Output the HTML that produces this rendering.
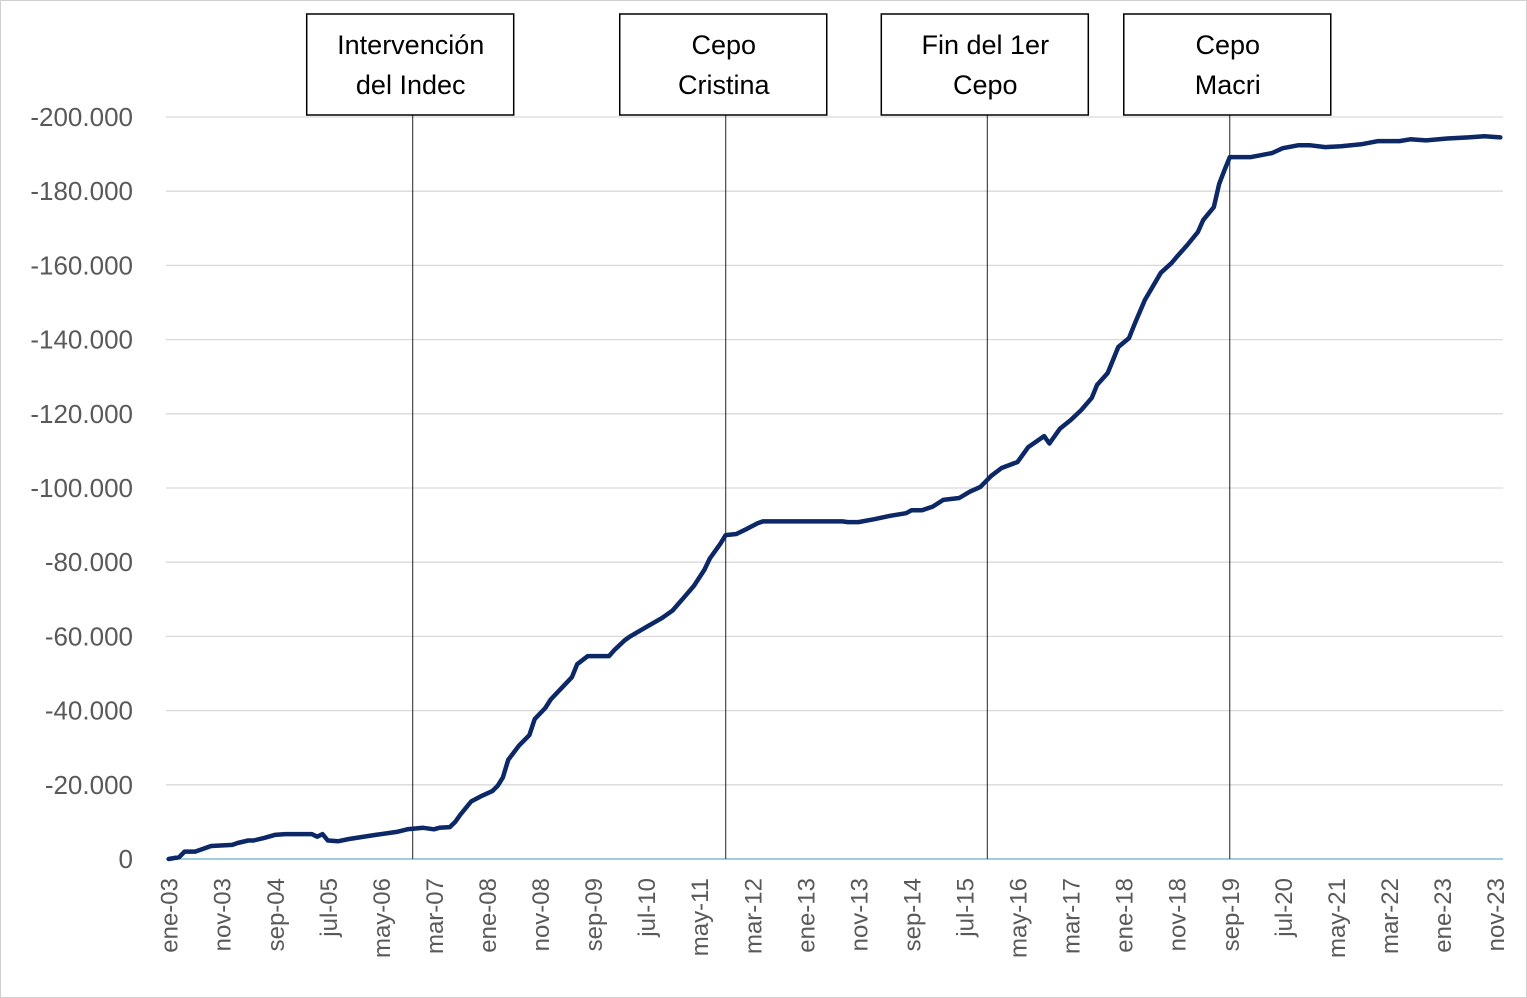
<!DOCTYPE html>
<html><head><meta charset="utf-8"><style>
body{margin:0;background:#fff}
#wrap{position:relative;width:1527px;height:998px;overflow:hidden}
svg text{font-family:"Liberation Sans",sans-serif}
</style></head><body>
<div id="wrap">
<svg id="chart" width="1527" height="998">
<rect x="0.5" y="0.5" width="1526" height="997" fill="#fff" stroke="#d0d0d0"/>
</svg>
</div>
<script>
const monthIdx=[0,2,3,5,7,8,12,13,15,16,18,20,22,27,28,29,30,32,34,39,43,45,48,50,51,53,54,55,57,59,61,62,63,64,66,68,69,71,72,74,76,77,79,83,84,86,87,90,93,95,97,99,101,102,104,105,107,109,111,112,127,128,130,133,136,139,140,142,144,146,149,151,153,155,157,160,162,165,166,168,170,172,174,175,177,179,181,182,184,187,189,190,192,194,195,197,198,199,200,204,208,210,213,215,218,221,225,228,232,234,237,241,245,248,251];
const values=[0,-0.5,-2,-2,-3,-3.5,-3.8,-4.3,-5,-5,-5.7,-6.5,-6.7,-6.7,-6,-6.7,-5,-4.8,-5.4,-6.5,-7.3,-8,-8.4,-8,-8.4,-8.6,-10,-12,-15.5,-17,-18.3,-19.7,-22,-26.7,-30.5,-33.4,-37.7,-40.7,-43,-46,-49,-52.5,-54.7,-54.7,-56.3,-59,-60,-62.5,-65,-67,-70.3,-73.6,-78,-81,-85,-87.3,-87.6,-89,-90.5,-91,-91,-90.8,-90.8,-91.6,-92.5,-93.2,-94,-94,-95,-96.8,-97.3,-99,-100.3,-103.2,-105.4,-107,-111,-114,-112,-116,-118.3,-121,-124.3,-127.8,-131,-138,-140.4,-144,-150.7,-158,-160.6,-162.3,-165.5,-169,-172.2,-175.7,-182,-185.7,-189.2,-189.2,-190.3,-191.6,-192.4,-192.4,-191.9,-192.1,-192.7,-193.5,-193.5,-194,-193.7,-194.2,-194.5,-194.8,-194.5];
const yTicks=[0,-20,-40,-60,-80,-100,-120,-140,-160,-180,-200];
const yTickLabels=["0","-20.000","-40.000","-60.000","-80.000","-100.000","-120.000","-140.000","-160.000","-180.000","-200.000"];
const monthNames=["ene","feb","mar","abr","may","jun","jul","ago","sep","oct","nov","dic"];
const startYear=2003, nMonths=252, labelEvery=10;
const events=["Intervención|del Indec","Cepo|Cristina","Fin del 1er|Cepo","Cepo|Macri"];
const eventMonths=[46,105,154.3,200];

const NS="http://www.w3.org/2000/svg";
const svg=document.getElementById('chart');
const X0=166,X1=1503,Y0=859,Y200=117;
const xS=m=>X0+(X1-X0)/nMonths*(m+0.5);
const yS=v=>Y0+(Y200-Y0)*(v/-200);
function mk(t,a,txt){const e=document.createElementNS(NS,t);for(const k in a)e.setAttribute(k,a[k]);if(txt!==undefined)e.textContent=txt;svg.appendChild(e);return e;}

yTicks.forEach((v,i)=>{
  if(v!==0){const g=mk('line',{x1:X0,x2:X1,y1:yS(v),y2:yS(v),stroke:'#d9d9d9','stroke-width':1.3});
  
  }
  const t=mk('text',{x:133,y:yS(v)+9,'text-anchor':'end','font-size':26,fill:'#595959'},yTickLabels[i]);
  
  
});
const ax=mk('line',{x1:X0,x2:X1,y1:Y0,y2:Y0,stroke:'#7fbfd6','stroke-width':1.5});



for(let m=0;m<nMonths;m+=labelEvery){
  const lbl=monthNames[m%12]+'-'+String((startYear+Math.floor(m/12))%100).padStart(2,'0');
  const x=xS(m)+9;
  const t=mk('text',{x:x,y:878,'text-anchor':'end','font-size':24,fill:'#595959',transform:`rotate(-90 ${x} 878)`},lbl);
  
  
}

events.forEach((ev,i)=>{
  const x=xS(eventMonths[i]);
  const l=mk('line',{x1:x,x2:x,y1:115,y2:Y0,stroke:'#222','stroke-width':1});
  
  
  const r=mk('rect',{x:x-106,y:14,width:207,height:101,fill:'#fff',stroke:'#000','stroke-width':1.5});
  
  
  ev.split('|').forEach((s,j)=>{
    const t=mk('text',{x:x-2,y:54+j*40,'text-anchor':'middle','font-size':27,fill:'#000'},s);
    
    
  });
});

const d=monthIdx.map((m,i)=>(i?'L':'M')+xS(m).toFixed(1)+','+yS(values[i]).toFixed(1)).join('');
const p=mk('path',{d:d,fill:'none',stroke:'#0c2866','stroke-width':4.5,'stroke-linejoin':'round','stroke-linecap':'round'});


</script>
</body></html>
